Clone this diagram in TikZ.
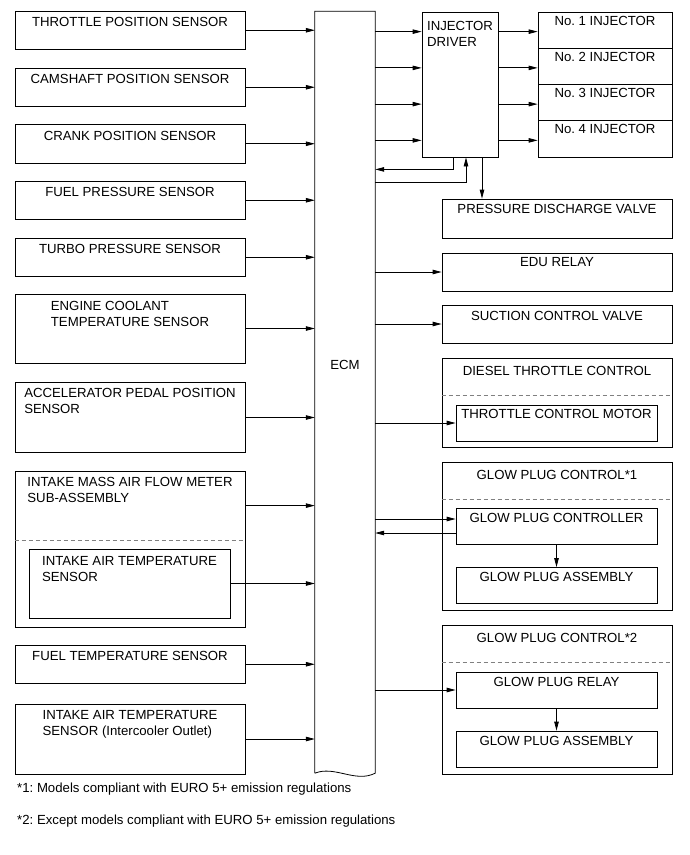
\documentclass[tikz,border=0pt]{standalone}
\usepackage{fontspec}
\setmainfont{Liberation Sans}
\usetikzlibrary{arrows.meta}
\frenchspacing

\begin{document}
\begin{tikzpicture}[
    x=1pt, y=-1pt,
    font=\fontsize{13.2}{16}\selectfont,
    box/.style = {rectangle, draw, line width=0.8pt, inner sep=0pt, minimum width=230pt, minimum height=38.5pt},
    inbox/.style = {box, minimum width=201pt, minimum height=36pt},
    txt/.style = {anchor=north, inner sep=0pt, align=left, yshift=-#1},
    txt/.default = 6.5pt,
    arrow/.style = {line width=0.8pt, -{Triangle[length=9pt, width=4.5pt]}},
    divider/.style = {gray, line width=0.8pt, dash pattern=on 4pt off 3pt}
]
\useasboundingbox (0,0) rectangle (690,855);

% Sensors (left column)
\node[box, label={[txt]north:THROTTLE POSITION SENSOR}] (tps) at (130,30.25) {};
\node[box, label={[txt]north:CAMSHAFT POSITION SENSOR}] (cmp) at (130,87.25) {};
\node[box, label={[txt]north:CRANK POSITION SENSOR}] (ckp) at (130,143.75) {};
\node[box, label={[txt]north:FUEL PRESSURE SENSOR}] (fps) at (130,200.25) {};
\node[box, label={[txt]north:TURBO PRESSURE SENSOR}] (tbp) at (130,257.25) {};
\node[box, minimum height=69pt, label={[txt=7pt]north:ENGINE COOLANT\\TEMPERATURE SENSOR}] (ect) at (130,328.5) {};
\node[box, minimum height=70pt, label={[txt=6pt]north:ACCELERATOR PEDAL POSITION\\SENSOR}] (app) at (130,417.5) {};
\node[box, minimum height=156pt, label={[txt=6.5pt]north:INTAKE MASS AIR FLOW METER\\SUB-ASSEMBLY}] (maf) at (130,549) {};
\node[inbox, minimum height=69pt, label={[txt=7.5pt]north:INTAKE AIR TEMPERATURE\\SENSOR}] (iat) at (129.5,583.5) {};
\node[box, label={[txt]north:FUEL TEMPERATURE SENSOR}] (fts) at (130,664.25) {};
\node[box, minimum height=70pt, label={[txt]north:INTAKE AIR TEMPERATURE\\SENSOR (Intercooler Outlet)}] (iac) at (130,739) {};

% ECM with torn bottom edge
\node[minimum width=60pt, minimum height=761.5pt, inner sep=0pt] (ecm) at (345,392.25) {};
\draw[line width=0.8pt] (ecm.south west) -- (ecm.north west) -- (ecm.north east) -- (ecm.south east)
    .. controls +(-20,10) and +(20,-8) .. (ecm.south west);
\node (ecmlbl) at (345,365) {ECM};

% Actuators (right column)
\node[box, minimum width=76pt, minimum height=145pt, label={[txt=9pt]north:INJECTOR\\DRIVER}] (drv) at (460,84.5) {};
\node[box, minimum width=134pt, minimum height=36.25pt, label={[txt=4pt]north:No. 1 INJECTOR}] (inj1) at (605,30.125) {};
\node[box, minimum width=134pt, minimum height=36.25pt, label={[txt=4pt]north:No. 2 INJECTOR}] (inj2) at (605,66.375) {};
\node[box, minimum width=134pt, minimum height=36.25pt, label={[txt=4pt]north:No. 3 INJECTOR}] (inj3) at (605,102.625) {};
\node[box, minimum width=134pt, minimum height=36.25pt, label={[txt=4pt]north:No. 4 INJECTOR}] (inj4) at (605,138.875) {};
\node[box, minimum height=39pt, label={[txt=5pt]north:PRESSURE DISCHARGE VALVE}] (pdv) at (557,218.5) {};
\node[box, minimum height=38pt, label={[txt=5pt]north:EDU RELAY}] (edu) at (557,272) {};
\node[box, minimum height=38pt, label={[txt=6pt]north:SUCTION CONTROL VALVE}] (scv) at (557,324) {};
\node[box, minimum height=89pt, label={[txt=8pt]north:DIESEL THROTTLE CONTROL}] (dtc) at (557,402.5) {};
\node[inbox, label={[txt=4pt]north:THROTTLE CONTROL MOTOR}] (tcm) at (556.5,423) {};
\node[box, minimum height=148pt, label={[txt=8pt]north:GLOW PLUG CONTROL*1}] (gpc1) at (557,536) {};
\node[inbox, label={[txt=5pt]north:GLOW PLUG CONTROLLER}] (gpcr) at (556.5,526) {};
\node[inbox, label={[txt=5pt]north:GLOW PLUG ASSEMBLY}] (gpa1) at (556.5,585.5) {};
\node[box, minimum height=149pt, label={[txt=8pt]north:GLOW PLUG CONTROL*2}] (gpc2) at (557,699.5) {};
\node[inbox, label={[txt=5pt]north:GLOW PLUG RELAY}] (gpry) at (556.5,690) {};
\node[inbox, label={[txt=5pt]north:GLOW PLUG ASSEMBLY}] (gpa2) at (556.5,749) {};

% Dashed separators
\draw[divider] ([yshift=-70pt]maf.north west) -- ([yshift=-70pt]maf.north east);
\draw[divider] ([yshift=-38pt]dtc.north west) -- ([yshift=-38pt]dtc.north east);
\draw[divider] ([yshift=-38pt]gpc1.north west) -- ([yshift=-38pt]gpc1.north east);
\draw[divider] ([yshift=-38pt]gpc2.north west) -- ([yshift=-38pt]gpc2.north east);

% Footnotes
\node[anchor=base west, inner sep=0pt] (fn1) at (17,792) {*1: Models compliant with EURO 5+ emission regulations};
\node[anchor=base west, inner sep=0pt] (fn2) at (17,824.5) {*2: Except models compliant with EURO 5+ emission regulations};

% Arrows into ECM
\foreach \s in {tps,cmp,ckp,fps,tbp,ect,app,iat,fts,iac}
    \draw[arrow] (\s.east) -- (\s.east -| ecm.west);
\draw[arrow] ([yshift=-35pt]maf.north east) -- ([yshift=-35pt]maf.north east -| ecm.west);

% Arrows out of ECM
\foreach \i in {inj1,inj2,inj3,inj4} {
    \draw[arrow] ([yshift=-1.5pt]ecm.east |- \i.west) -- ([yshift=-1.5pt]drv.west |- \i.west);
    \draw[arrow] ([yshift=-1.5pt]drv.east |- \i.west) -- ([yshift=-1.5pt]\i.west);
}
\draw[arrow] ([xshift=-7pt]drv.south) |- ([yshift=-12pt]drv.south -| ecm.east);
\draw[arrow] ([yshift=-25pt]drv.south -| ecm.east) -| ([xshift=6pt]drv.south);
\draw[arrow] ([xshift=22pt]drv.south) -- ([xshift=22pt]drv.south |- pdv.north);
\draw[arrow] (ecm.east |- edu.west) -- (edu.west);
\draw[arrow] (ecm.east |- scv.west) -- (scv.west);
\draw[arrow] (ecm.east |- tcm.west) -- (tcm.west);
\draw[arrow] ([yshift=7pt]gpcr.west -| ecm.east) -- ([yshift=7pt]gpcr.west);
\draw[arrow] ([yshift=-7pt]gpcr.west) -- ([yshift=-7pt]gpcr.west -| ecm.east);
\draw[arrow] (gpcr.south) -- (gpa1.north);
\draw[arrow] (ecm.east |- gpry.west) -- (gpry.west);
\draw[arrow] (gpry.south) -- (gpa2.north);

\end{tikzpicture}
\end{document}
